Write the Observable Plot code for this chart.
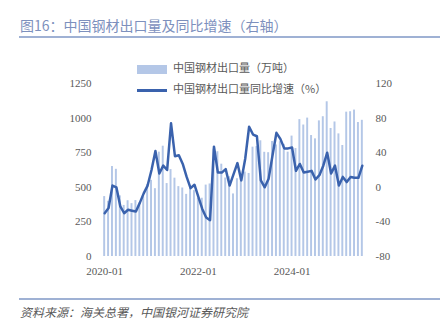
<!DOCTYPE html>
<html><head><meta charset="utf-8">
<script src="https://cdn.jsdelivr.net/npm/d3@7"></script>
<script src="https://cdn.jsdelivr.net/npm/@observablehq/plot@0.6"></script>
<style>
body{margin:0;width:443px;height:325px;position:relative;background:#fff;overflow:hidden;font-family:"Noto Sans CJK SC","Noto Sans",sans-serif;}
#title{position:absolute;left:20px;top:14px;font-size:14px;color:#7d90bd;line-height:22px;white-space:nowrap;}
.rule{position:absolute;left:19px;width:421px;height:2px;background:#9fb1d4;}
#chart{position:absolute;left:0;top:60px;}
.leg{position:absolute;font-size:11px;color:#595959;line-height:14px;white-space:nowrap;}
.sw{display:inline-block;width:30px;vertical-align:middle;margin-right:6px;}
#source{position:absolute;left:20px;top:303px;font-size:12px;color:#595959;font-style:italic;white-space:nowrap;line-height:18px;}
</style></head>
<body>
<div id="title">图16：中国钢材出口量及同比增速（右轴）</div>
<div class="rule" style="top:36px"></div>
<div id="chart"></div>
<div class="leg" style="left:137px;top:60px"><span class="sw" style="height:9px;background:#b4c7e7"></span>中国钢材出口量（万吨）</div>
<div class="leg" style="left:137px;top:81px"><span class="sw" style="height:3px;background:#3a62ad"></span>中国钢材出口量同比增速（%）</div>
<div class="rule" style="top:298px;height:1.5px"></div>
<div id="source">资料来源：海关总署，中国银河证券研究院</div>
<script>
const startYear = 2020, endYear = 2025, endMonth = 7;
const exportVolume = [
  433, 399, 650, 630, 438, 369, 403, 382, 404, 368, 431, 520,
  550, 490, 754, 797, 527, 628, 566, 505, 495, 449, 498, 476,
  421, 421, 516, 524, 776, 757, 667, 567, 576, 452, 562, 563,
  610, 600, 790, 794, 836, 753, 750, 831, 806, 830, 810, 754,
  870, 780, 989, 950, 1000, 874, 850, 980, 1010, 1118, 925, 972,
  886, 802, 1043, 1046, 1058, 968, 984
];
const exportYoY = [
  -30, -24, 2, 0, -22, -30, -26, -27, -28, -18, -7, 2,
  20, 42, 16, 25, 20, 74, 36, 37, 27, 12, -1, 3,
  -11, -25, -35, -38, 47, 17, 17, 21, 2, 15, 28, 8,
  33, 70, 61, 59, 8, 0, 10, 37, 63, 56, 45, 45,
  46, 19, 27, 17, 18, 19, 9, 14, 25, 40, 16, 25,
  2, 12, 6, 12, 11, 11, 25
];
const xTickLabels = ["2020-01", "2022-01", "2024-01"];
const leftTicks = [0, 250, 500, 750, 1000, 1250];
const rightTicks = [-80, -40, 0, 40, 80, 120];

const months = [];
for (let y = startYear; y <= endYear; y++) {
  for (let m = 1; m <= 12; m++) {
    if (y === endYear && m > endMonth) break;
    months.push(`${y}-${String(m).padStart(2, "0")}`);
  }
}
const L0 = leftTicks[0], L1 = leftTicks[leftTicks.length - 1];
const R0 = rightTicks[0], R1 = rightTicks[rightTicks.length - 1];
const toLeft = v => L0 + (v - R0) * (L1 - L0) / (R1 - R0);
const toRight = v => R0 + (v - L0) * (R1 - R0) / (L1 - L0);

const data = months.map((m, i) => ({month: m, vol: exportVolume[i], yoy: exportYoY[i]}));

const chart = Plot.plot({
  width: 443,
  height: 225,
  marginTop: 23,
  marginBottom: 29,
  marginLeft: 103,
  marginRight: 80,
  style: {fontFamily: "Liberation Serif", fontSize: "11px", color: "#595959", background: "transparent"},
  x: {type: "band", domain: months, paddingInner: 0.5, paddingOuter: 0.05},
  y: {domain: [L0, L1]},
  marks: [
    Plot.barY(data, {x: "month", y: "vol", fill: "#b4c7e7"}),
    Plot.axisY({anchor: "left", ticks: leftTicks, tickSize: 0, tickPadding: 12, line: true, stroke: "#d9d9d9", fill: "#595959", label: null, tickFormat: d => String(d)}),
    Plot.axisY({anchor: "right", ticks: leftTicks, tickSize: 0, tickPadding: 12, line: true, stroke: "#d9d9d9", fill: "#595959", label: null, tickFormat: d => String(Math.round(toRight(d)))}),
    Plot.axisX({ticks: xTickLabels, tickSize: 0, tickPadding: 11, line: true, stroke: "#d9d9d9", fill: "#595959", label: null}),
    Plot.lineY(data, {x: "month", y: d => toLeft(d.yoy), stroke: "#3a62ad", strokeWidth: 2.5, strokeLinejoin: "round"})
  ]
});
document.getElementById("chart").appendChild(chart);
</script>
</body></html>
